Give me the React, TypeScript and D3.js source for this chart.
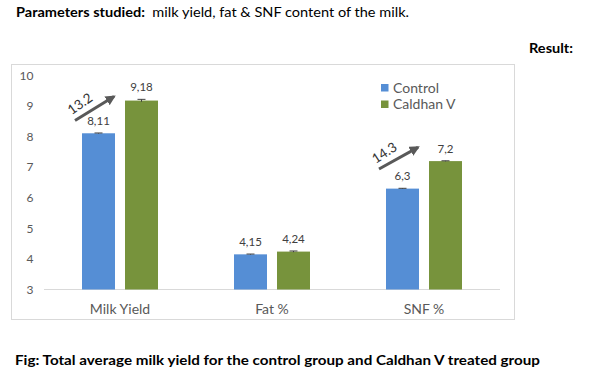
import React from "react";
import * as d3 from "d3";

const categories = ["Milk Yield", "Fat %", "SNF %"];
const seriesNames = ["Control", "Caldhan V"];
const controlValues = [8.11, 4.15, 6.3];
const caldhanValues = [9.18, 4.24, 7.2];
const controlErrors = [0.01, 0.01, 0.01];
const caldhanErrors = [0.04, 0.02, 0.01];
const valueLabels = [["8,11", "4,15", "6,3"], ["9,18", "4,24", "7,2"]];
const yTicks = [3, 4, 5, 6, 7, 8, 9, 10];
const annotations = [
  { cat: "Milk Yield", label: "13.2", from: 8.53, to: 9.31 },
  { cat: "SNF %", label: "14.3", from: 6.94, to: 7.65 },
];

const colors = ["#558ed5", "#77933c"];
const FONT = "Lato, 'Open Sans', sans-serif";

export default function App() {
  const W = 600, H = 375;
  const x0 = d3.scaleBand<string>().domain(categories).range([44, 500]).paddingInner(0).paddingOuter(0);
  const x1 = d3.scaleBand<string>().domain(seriesNames).range([0, x0.bandwidth()]).paddingInner(0.2326).paddingOuter(0.884);
  const y = d3.scaleLinear().domain([3, 10]).range([289.5, 75.5]);
  const series = [controlValues, caldhanValues];
  const errs = [controlErrors, caldhanErrors];

  return (
    <svg width={W} height={H} style={{ position: "absolute", left: 0, top: 0, background: "#fff" }} fontFamily={FONT}>
      <defs>
        <marker id="ah" viewBox="0 0 10 10" refX="8" refY="5" markerWidth="3.4" markerHeight="3.4" orient="auto">
          <path d="M0,0 L10,5 L0,10 z" fill="#595959" />
        </marker>
      </defs>
      <rect width={W} height={H} fill="#fff" />
      <text x={16} y={17} fontSize={14} fill="#000" textLength={393} lengthAdjust="spacingAndGlyphs">
        <tspan fontWeight="bold">Parameters studied:</tspan>
        <tspan>{"\u00a0 milk yield, fat & SNF content of the milk."}</tspan>
      </text>
      <text x={529} y={53} fontSize={14} fontWeight="bold" fill="#000" textLength={44} lengthAdjust="spacingAndGlyphs">Result:</text>

      <rect x={11.5} y={64.5} width={503} height={255} fill="#fff" stroke="#d9d9d9" strokeWidth={1} />

      {yTicks.map((t) => (
        <text key={t} x={33.5} y={y(t)} dy="0.35em" fontSize={12} fill="#595959" textAnchor="end">{t}</text>
      ))}
      <line x1={44} x2={500} y1={y(3)} y2={y(3)} stroke="#d9d9d9" strokeWidth={1} />

      {categories.map((c, i) => (
        <g key={c} transform={`translate(${x0(c)},0)`}>
          {seriesNames.map((s, j) => {
            const v = series[j][i];
            const bx = x1(s)!;
            const bw = x1.bandwidth();
            const cx = bx + bw / 2;
            const e = errs[j][i];
            return (
              <g key={s}>
                <rect x={bx} y={y(v)} width={bw} height={y(3) - y(v)} fill={colors[j]} />
                <line x1={cx} x2={cx} y1={y(v + e)} y2={y(v - e)} stroke="#404040" strokeWidth={1} />
                <line x1={cx - 4} x2={cx + 4} y1={y(v + e)} y2={y(v + e)} stroke="#404040" strokeWidth={1} />
                <text x={cx} y={y(v + e) - 8} fontSize={11.5} fill="#404040" textAnchor="middle">{valueLabels[j][i]}</text>
              </g>
            );
          })}
          <text x={x0.bandwidth() / 2} y={309} dy="0.35em" fontSize={14} fill="#595959" textAnchor="middle">{c}</text>
        </g>
      ))}

      {annotations.map((a) => {
        const i = categories.indexOf(a.cat);
        const bx = x0(a.cat)! + x1(seriesNames[0])!;
        const xs = bx - 7;
        const xe = bx + x1.bandwidth() - 1;
        const ys = y(a.from);
        const ye = y(a.to);
        const ang = (Math.atan2(ye - ys, xe - xs) * 180) / Math.PI;
        const tx = xs + (xe - xs) * 0.3;
        const ty = ys + (ye - ys) * 0.3;
        return (
          <g key={a.label + i}>
            <line x1={xs} y1={ys} x2={xe} y2={ye} stroke="#595959" strokeWidth={3} markerEnd="url(#ah)" />
            <g transform={`translate(${tx},${ty}) rotate(${ang - 4})`}>
              <text x={0} y={-7} fontSize={13.5} fill="#333" textAnchor="middle">{a.label}</text>
            </g>
          </g>
        );
      })}

      {seriesNames.map((s, j) => (
        <g key={s} transform={`translate(381,${84 + j * 16.5})`}>
          <rect x={0} y={0} width={7.5} height={7.5} fill={colors[j]} />
          <text x={12} y={3.8} dy="0.35em" fontSize={14} fill="#595959">{s}</text>
        </g>
      ))}

      <text x={15} y={365} fontSize={14} fontWeight="bold" fill="#000" textLength={525} lengthAdjust="spacingAndGlyphs">
        Fig: Total average milk yield for the control group and Caldhan V treated group
      </text>
    </svg>
  );
}
